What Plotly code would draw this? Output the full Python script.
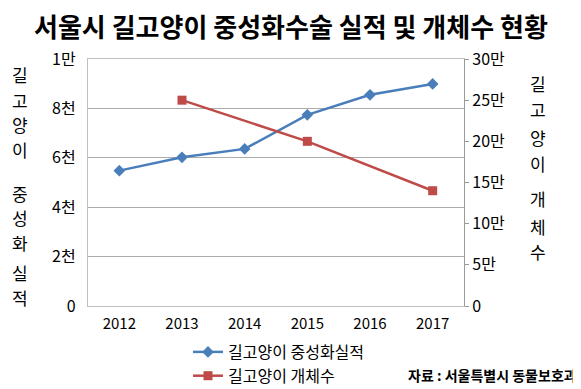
import plotly.graph_objects as go

years = ["2012", "2013", "2014", "2015", "2016", "2017"]
neuter_counts = [5480, 6020, 6360, 7740, 8550, 8990]
cat_years = ["2013", "2015", "2017"]
cat_population = [250000, 200000, 140000]

left_tickvals = [0, 2000, 4000, 6000, 8000, 10000]
left_ticktext = ["0", "2천", "4천", "6천", "8천", "1만"]
right_tickvals = [0, 50000, 100000, 150000, 200000, 250000, 300000]
right_ticktext = ["0", "5만", "10만", "15만", "20만", "25만", "30만"]

title_text = "서울시 길고양이 중성화수술 실적 및 개체수 현황"
source_text = "자료 : 서울특별시 동물보호과"
left_title_chars = ["길", "고", "양", "이", "중", "성", "화", "실", "적"]
right_title_chars = ["길", "고", "양", "이", "개", "체", "수"]

FONT = "Noto Sans CJK KR, Malgun Gothic, sans-serif"
BLUE = "#4A7EBB"
RED = "#BE4B48"

# page body has an 8px default margin; figure drawn at (8, 8)
OFF = 8
W, H = 581 - OFF, 389 - OFF
ML, MR, MT, MB = 88 - OFF, 117, 59 - OFF, 83
PW, PH = W - ML - MR, H - MT - MB


def px_x(px):
    return (px - OFF - ML) / PW


def px_y(py):
    return (H - MB - (py - OFF)) / PH


fig = go.Figure()
fig.add_trace(go.Scatter(
    x=years, y=neuter_counts, name="길고양이 중성화실적",
    mode="lines+markers",
    line=dict(color=BLUE, width=2.5),
    marker=dict(symbol="diamond", size=9, color=BLUE),
    yaxis="y",
))
fig.add_trace(go.Scatter(
    x=cat_years, y=cat_population, name="길고양이 개체수",
    mode="lines+markers",
    line=dict(color=RED, width=2.5),
    marker=dict(symbol="square", size=9, color=RED),
    yaxis="y2",
))

fig.update_layout(
    width=W, height=H,
    margin=dict(l=ML, r=MR, t=MT, b=MB, autoexpand=False),
    paper_bgcolor="white", plot_bgcolor="white",
    font=dict(family=FONT, color="#000000", size=15),
    showlegend=True,
    legend=dict(
        x=px_x(188), y=px_y(335), xanchor="left", yanchor="top",
        orientation="v", font=dict(size=16, family=FONT),
        tracegroupgap=0, itemwidth=30,
        bgcolor="rgba(0,0,0,0)",
    ),
    xaxis=dict(
        type="category", categoryorder="array", categoryarray=years,
        range=[-0.5, 5.5],
        showline=True, linecolor="#BFBFBF", linewidth=1.3, mirror=True,
        showgrid=False, ticks="", tickfont=dict(size=15),
        ticklabelstandoff=4,
    ),
    yaxis=dict(
        range=[0, 10000], tickvals=left_tickvals, ticktext=left_ticktext,
        showline=True, linecolor="#BFBFBF", linewidth=1.3, mirror=True,
        showgrid=True, gridcolor="#ABABAB", gridwidth=1,
        ticks="", tickfont=dict(size=16), ticklabelstandoff=8,
        zeroline=False,
    ),
    yaxis2=dict(
        range=[0, 300000], tickvals=right_tickvals, ticktext=right_ticktext,
        overlaying="y", side="right",
        showline=True, linecolor="#9A9A9A", linewidth=1.3,
        showgrid=False, ticks="outside", ticklen=4, tickcolor="#9A9A9A",
        tickfont=dict(size=16), zeroline=False,
    ),
)


def add_text(text, px, py, size, xanchor="center"):
    fig.add_annotation(
        text=text, xref="paper", yref="paper",
        x=px_x(px), y=px_y(py),
        xanchor=xanchor, yanchor="middle", showarrow=False, borderpad=0,
        font=dict(family=FONT, color="#000000", size=size),
    )


add_text("<b>" + title_text + "</b>", 291, 25, 26)
left_ys = [75, 100, 124, 149, 193, 217, 242, 272, 297]
for ch, yy in zip(left_title_chars, left_ys):
    add_text(ch, 20, yy, 17)
right_ys = [83, 110, 137, 163, 198, 226, 252]
for ch, yy in zip(right_title_chars, right_ys):
    add_text(ch, 538, yy, 17)
add_text("<b>" + source_text + "</b>", 578, 375, 14, xanchor="right")

fig.write_html("out.html")
